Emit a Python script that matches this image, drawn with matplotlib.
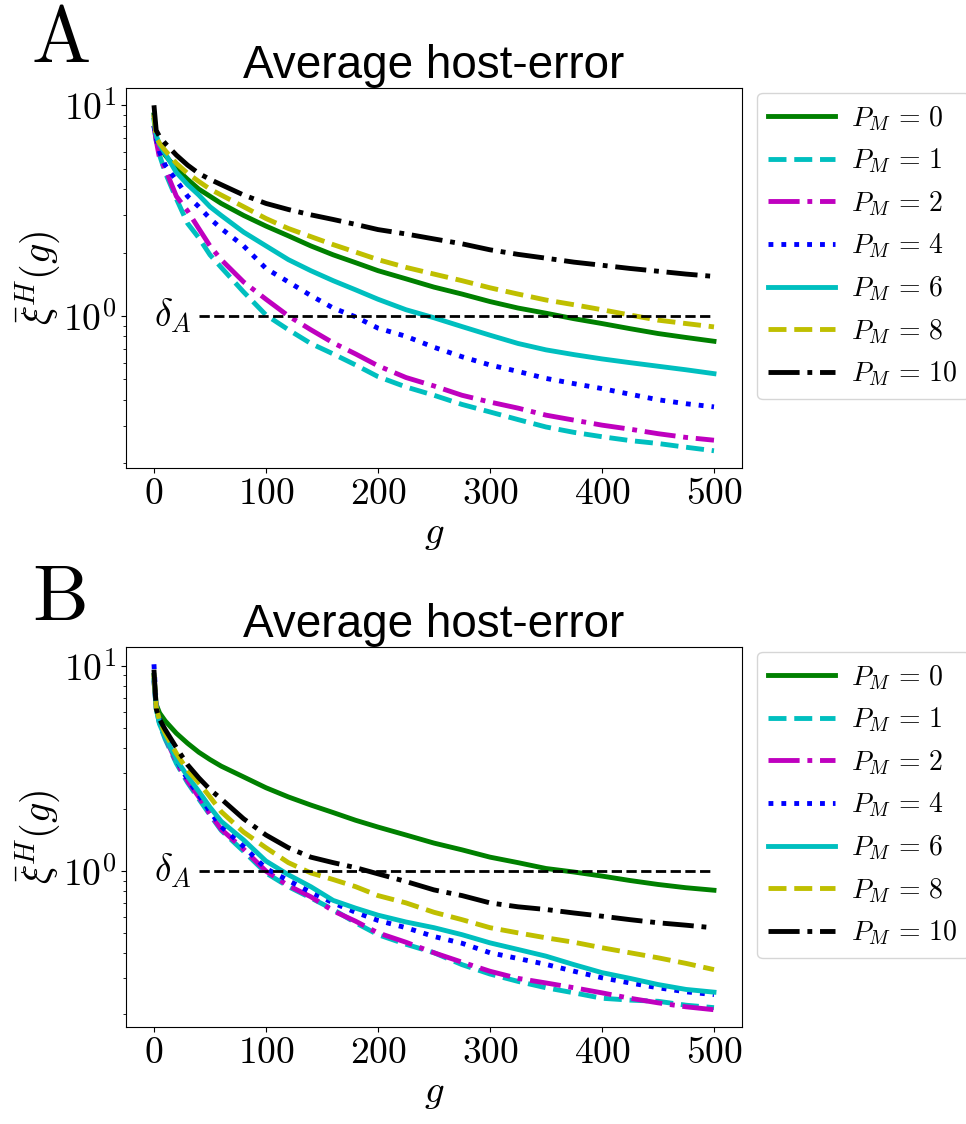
import matplotlib
matplotlib.use("Agg")
import matplotlib.pyplot as plt

plt.rcParams['mathtext.fontset'] = 'cm'
plt.rcParams['font.family'] = 'serif'
plt.rcParams['font.serif'] = ['cmr10']
plt.rcParams['axes.formatter.use_mathtext'] = True

# ---------------- data ----------------
g = [0, 2, 5, 10, 20, 30, 40, 50, 60, 80, 100, 120, 140, 160, 180, 200,
     225, 250, 275, 300, 325, 350, 375, 400, 425, 450, 475, 500]

pm_labels = [0, 1, 2, 4, 6, 8, 10]

# Panel A
A_pm0 = [9.0, 7.0, 6.4, 5.8, 5.0, 4.45, 4.0, 3.7, 3.42, 3.0, 2.67, 2.4, 2.15, 1.95, 1.79, 1.64,
         1.50, 1.37, 1.27, 1.17, 1.09, 1.03, 0.97, 0.92, 0.87, 0.825, 0.79, 0.758]
A_pm1 = [8.0, 6.8, 5.8, 4.8, 3.6, 2.75, 2.35, 1.95, 1.7, 1.3, 1.01, 0.86, 0.74, 0.66, 0.585, 0.515,
         0.46, 0.42, 0.38, 0.35, 0.322, 0.297, 0.28, 0.267, 0.256, 0.248, 0.238, 0.229]
A_pm2 = [8.0, 6.8, 5.6, 5.0, 3.7, 3.15, 2.6, 2.15, 1.85, 1.45, 1.2, 1.0, 0.86, 0.745, 0.66, 0.58,
         0.51, 0.465, 0.42, 0.39, 0.365, 0.338, 0.32, 0.303, 0.29, 0.276, 0.265, 0.257]
A_pm4 = [8.0, 7.0, 6.0, 5.2, 4.4, 3.7, 3.3, 2.9, 2.6, 2.15, 1.68, 1.45, 1.25, 1.09, 0.99, 0.875,
         0.8, 0.71, 0.64, 0.585, 0.545, 0.505, 0.477, 0.452, 0.425, 0.40, 0.383, 0.37]
A_pm6 = [8.5, 7.2, 6.5, 5.9, 4.8, 4.2, 3.75, 3.3, 3.0, 2.5, 2.15, 1.85, 1.64, 1.47, 1.33, 1.20,
         1.07, 0.98, 0.89, 0.81, 0.74, 0.69, 0.655, 0.625, 0.6, 0.577, 0.555, 0.532]
A_pm8 = [9.0, 7.0, 6.6, 6.1, 5.3, 4.75, 4.35, 4.0, 3.75, 3.3, 2.9, 2.6, 2.38, 2.18, 2.01, 1.85,
         1.70, 1.58, 1.47, 1.36, 1.27, 1.19, 1.13, 1.07, 1.01, 0.955, 0.92, 0.887]
A_pm10 = [10.0, 7.6, 7.1, 6.6, 5.8, 5.2, 4.75, 4.45, 4.2, 3.75, 3.42, 3.2, 3.02, 2.87, 2.72, 2.57,
          2.45, 2.32, 2.2, 2.06, 1.96, 1.88, 1.8, 1.74, 1.68, 1.63, 1.58, 1.54]

# Panel B
B_pm0 = [9.0, 6.5, 5.9, 5.4, 4.7, 4.2, 3.8, 3.5, 3.25, 2.88, 2.55, 2.3, 2.1, 1.93, 1.77, 1.64,
         1.5, 1.37, 1.27, 1.17, 1.1, 1.03, 0.99, 0.946, 0.9, 0.861, 0.83, 0.807]
B_pm1 = [8.5, 6.2, 5.2, 4.4, 3.35, 2.7, 2.25, 1.88, 1.58, 1.25, 0.98, 0.84, 0.74, 0.65, 0.56, 0.49,
         0.44, 0.40, 0.35, 0.315, 0.29, 0.27, 0.255, 0.24, 0.235, 0.232, 0.222, 0.216]
B_pm2 = [8.5, 6.3, 5.3, 4.5, 3.4, 2.75, 2.3, 1.9, 1.6, 1.28, 1.0, 0.85, 0.75, 0.64, 0.57, 0.50,
         0.45, 0.40, 0.36, 0.325, 0.3, 0.285, 0.27, 0.255, 0.24, 0.228, 0.218, 0.211]
B_pm4 = [10.2, 6.5, 5.4, 4.6, 3.5, 2.8, 2.35, 1.95, 1.65, 1.32, 1.03, 0.9, 0.79, 0.70, 0.63, 0.575,
         0.53, 0.48, 0.445, 0.40, 0.375, 0.351, 0.325, 0.302, 0.285, 0.27, 0.258, 0.25]
B_pm6 = [8.5, 6.2, 5.2, 4.5, 3.5, 2.9, 2.45, 2.05, 1.75, 1.42, 1.12, 0.96, 0.84, 0.72, 0.66, 0.61,
         0.565, 0.53, 0.49, 0.447, 0.415, 0.385, 0.35, 0.32, 0.3, 0.28, 0.265, 0.257]
B_pm8 = [9.0, 6.3, 5.4, 4.7, 3.75, 3.1, 2.7, 2.3, 1.95, 1.55, 1.3, 1.1, 0.98, 0.91, 0.84, 0.76,
         0.70, 0.63, 0.58, 0.53, 0.5, 0.473, 0.45, 0.423, 0.40, 0.378, 0.355, 0.331]
B_pm10 = [9.6, 6.2, 5.5, 4.9, 4.0, 3.3, 2.85, 2.5, 2.25, 1.8, 1.5, 1.3, 1.17, 1.1, 1.04, 0.97,
          0.89, 0.81, 0.76, 0.70, 0.67, 0.65, 0.625, 0.603, 0.58, 0.56, 0.545, 0.529]

delta_A = 1.0
delta_x = [40, 500]

xticks = [0, 100, 200, 300, 400, 500]

styles = ['g-', 'c--', 'm-.', 'b:', 'c-', 'y--', 'k-.']

# ---------------- figure ----------------
fig = plt.figure(figsize=(9.66, 11.24), dpi=100)
axA = fig.add_axes([0.1304, 0.5836, 0.6377, 0.3381])
axB = fig.add_axes([0.1304, 0.0863, 0.6377, 0.3381])

panels = [(axA, [A_pm0, A_pm1, A_pm2, A_pm4, A_pm6, A_pm8, A_pm10], 'A'),
          (axB, [B_pm0, B_pm1, B_pm2, B_pm4, B_pm6, B_pm8, B_pm10], 'B')]

for ax, series, letter in panels:
    for vals, st, pm in zip(series, styles, pm_labels):
        ax.plot(g, vals, st, lw=3.5, label=r'$P_M\,=\,%d$' % pm)
    ax.set_yscale('log')
    ax.plot(delta_x, [delta_A, delta_A], 'k--', lw=2)
    ax.text(0, delta_A, r'$\delta_A$', fontsize=27, ha='left', va='center')
    ax.set_xticks(xticks)
    ax.tick_params(axis='both', which='major', labelsize=27)
    ax.set_xlabel(r'$g$', fontsize=28)
    ax.set_ylabel(r'$\bar{\xi}^H(g)$', fontsize=29, labelpad=0)
    ax.set_title('Average host-error', fontsize=33, family='Liberation Sans')
    ax.legend(loc='upper left', bbox_to_anchor=(1.0244, 0.9876), borderaxespad=0,
              fontsize=20, handlelength=2.4, handletextpad=0.6)

fig.text(0.033, 1 - 62 / 1124, 'A', fontsize=57, va='baseline', ha='left')
fig.text(0.033, 1 - 621 / 1124, 'B', fontsize=57, va='baseline', ha='left')

fig.savefig('out.png', dpi=100)
